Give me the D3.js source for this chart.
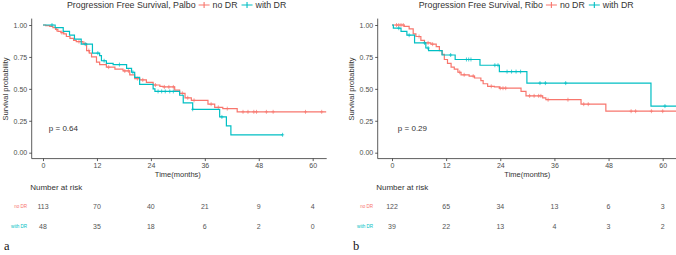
<!DOCTYPE html>
<html>
<head>
<meta charset="utf-8">
<script src="https://cdn.jsdelivr.net/npm/d3@7"></script>
<style>
  body { margin: 0; background: #fff; }
  svg { font-family: "Liberation Sans", Arial, sans-serif; display: block; }
  .axis path, .axis line { stroke: #333; }
  .axis text { fill: #4d4d4d; font-size: 7px; }
</style>
</head>
<body>
<div id="chart"></div>
<script>

// ---- data ----
const riskTimes = [0, 12, 24, 36, 48, 60];
const groups = ["no DR", "with DR"];

// Palbo
const palboNoDrTime = [0, 0.6, 1.5, 2.2, 2.8, 3.3, 4.0, 4.6, 5.2, 6.0, 6.8, 7.4, 8.9, 9.7, 10.3, 10.8, 11.9, 12.6, 14.1, 16.0, 17.8, 19.3, 20.4, 21.5, 23.0, 24.5, 26.0, 26.7, 29.3, 30.4, 31.6, 33.0, 36.7, 38.2, 40.0, 43.2];
const palboNoDrSurv = [1, 0.995, 0.99, 0.98, 0.965, 0.95, 0.94, 0.93, 0.91, 0.895, 0.88, 0.87, 0.855, 0.80, 0.78, 0.75, 0.71, 0.69, 0.67, 0.655, 0.64, 0.61, 0.58, 0.57, 0.55, 0.53, 0.52, 0.515, 0.49, 0.465, 0.43, 0.41, 0.38, 0.355, 0.345, 0.32];
const palboNoDrCensor = [3.0, 4.2, 8.0, 9.2, 10.2, 14.6, 18.2, 19.0, 21.0, 22.2, 25.0, 27.0, 28.0, 29.0, 31.0, 32.2, 33.6, 37.4, 39.0, 41.0, 44.5, 45.6, 46.9, 47.5, 49.7, 51.2, 58.4, 62.0];
const palboNoDrEnd = 63;
const palboWithDrTime = [0, 2.7, 4.5, 5.9, 7.0, 8.5, 11.0, 12.6, 13.0, 14.1, 15.6, 18.6, 19.7, 20.4, 21.5, 24.5, 24.9, 30.4, 31.2, 33.3, 39.3, 40.8, 41.8];
const palboWithDrSurv = [1, 0.98, 0.95, 0.92, 0.89, 0.85, 0.78, 0.76, 0.72, 0.70, 0.69, 0.66, 0.63, 0.59, 0.535, 0.50, 0.48, 0.45, 0.39, 0.34, 0.28, 0.21, 0.14];
const palboWithDrCensor = [2.0, 9.5, 12.2, 13.6, 17.0, 20.0, 25.6, 26.4, 27.2, 28.2, 29.0, 33.3, 39.8, 53.3];
const palboWithDrEnd = 53.3;
const palboRiskNoDr = [113, 70, 40, 21, 9, 4];
const palboRiskWithDr = [48, 35, 18, 6, 2, 0];

// Ribo
const riboNoDrTime = [0, 2.7, 3.8, 4.7, 5.3, 6.4, 7.2, 8.6, 9.8, 10.5, 11.1, 11.6, 12.3, 13.1, 13.8, 14.6, 15.3, 17.1, 18.3, 19.7, 20.2, 21.2, 22.7, 23.8, 28.6, 29.7, 33.4, 34.1, 41.9, 47.4];
const riboNoDrSurv = [1, 0.99, 0.97, 0.93, 0.91, 0.88, 0.86, 0.85, 0.83, 0.80, 0.77, 0.73, 0.70, 0.67, 0.655, 0.63, 0.61, 0.60, 0.585, 0.565, 0.54, 0.52, 0.515, 0.505, 0.48, 0.445, 0.43, 0.415, 0.38, 0.325];
const riboNoDrCensor = [1.0, 1.5, 2.0, 2.5, 6.0, 8.0, 9.0, 15.0, 16.0, 18.0, 22.0, 24.0, 24.6, 25.2, 30.5, 31.5, 32.5, 33.0, 34.6, 39.0, 42.5, 43.5, 53.0, 54.0, 57.5, 60.0];
const riboNoDrEnd = 63;
const riboWithDrTime = [0, 0.3, 2.0, 3.3, 5.0, 7.5, 8.1, 11.1, 14.0, 19.5, 23.8, 29.9, 57.4];
const riboWithDrSurv = [1, 0.975, 0.95, 0.92, 0.86, 0.82, 0.80, 0.765, 0.73, 0.685, 0.635, 0.545, 0.365];
const riboWithDrCensor = [1.5, 3.8, 7.2, 8.0, 13.0, 16.5, 17.0, 17.5, 22.8, 23.5, 25.5, 26.5, 27.5, 28.5, 32.8, 34.0, 38.5, 60.5];
const riboWithDrEnd = 63;
const riboRiskNoDr = [122, 65, 34, 13, 6, 3];
const riboRiskWithDr = [39, 22, 13, 4, 3, 2];

const colors = ["#F8766D", "#00BFC4"];

const svg = d3.select("#chart").append("svg")
    .attr("width", 676)
    .attr("height", 255);

function survAt(times, surv, t) {
    let s = surv[0];
    times.forEach((tt, i) => { if (tt <= t) s = surv[i]; });
    return s;
}

function drawPanel(p) {
    let g = svg.append("g").attr("transform", `translate(${p.left},0)`);

    let x = d3.scaleLinear().domain([0, 60]).range([p.x0, p.x60]);
    let y = d3.scaleLinear().domain([0, 1]).range([152.7, 25]);

    // axes
    let xAxis = d3.axisBottom(x).tickValues(riskTimes).tickSize(2.5).tickSizeOuter(0).tickPadding(2);
    let yAxis = d3.axisLeft(y).tickValues([0, 0.25, 0.5, 0.75, 1]).tickFormat(d3.format(".2f")).tickSize(2.5).tickSizeOuter(0).tickPadding(2);

    g.append("g").attr("class", "axis")
        .attr("transform", "translate(0,158.6)")
        .call(xAxis)
        .call(a => a.select(".domain").attr("d", `M${p.axisX},0H${p.right}`));
    g.append("g").attr("class", "axis")
        .attr("transform", `translate(${p.axisX},0)`)
        .call(yAxis)
        .call(a => a.select(".domain").attr("d", "M0,18.6V158.6"));
    g.selectAll(".axis path, .axis line").attr("stroke-width", 0.8);

    // curves
    let line = d3.line().x(d => x(d[0])).y(d => y(d[1])).curve(d3.curveStepAfter);
    p.curves.forEach((c, i) => {
        let pts = c.time.map((t, j) => [t, c.surv[j]]);
        pts.push([c.end, c.surv[c.surv.length - 1]]);
        g.append("path")
            .datum(pts)
            .attr("fill", "none")
            .attr("stroke", colors[i])
            .attr("stroke-width", 1.2)
            .attr("d", line);
        g.selectAll(null)
            .data(c.censor)
            .enter()
            .append("path")
            .attr("stroke", colors[i])
            .attr("stroke-width", 0.7)
            .attr("d", d => {
                let cx = x(d), cy = y(survAt(c.time, c.surv, d));
                return `M${cx - 1.6},${cy}H${cx + 1.6}M${cx},${cy - 2}V${cy + 2}`;
            });
    });

    // title + legend
    let title = g.append("text")
        .attr("x", p.titleX).attr("y", 8)
        .attr("font-size", 8.8).attr("fill", "#333")
        .text(p.title);
    let tw = title.node().getComputedTextLength();
    let lx = p.titleX + tw + 3;
    groups.forEach((name, i) => {
        g.append("path")
            .attr("stroke", colors[i]).attr("stroke-width", 1.1)
            .attr("d", `M${lx},5H${lx + 11}M${lx + 5.5},2V8`);
        let t = g.append("text")
            .attr("x", lx + 14).attr("y", 8)
            .attr("font-size", 8.8).attr("fill", "#333")
            .text(name);
        lx += 14 + t.node().getComputedTextLength() + 4;
    });

    // y label
    g.append("text")
        .attr("transform", `translate(${p.axisX - 24},89) rotate(-90)`)
        .attr("text-anchor", "middle")
        .attr("font-size", 7.5).attr("fill", "#333")
        .text("Survival probability");

    // p value
    g.append("text")
        .attr("x", x(1.3)).attr("y", 131)
        .attr("font-size", 8).attr("fill", "#333")
        .text(p.pval);

    // x label
    g.append("text")
        .attr("x", x(30)).attr("y", 177)
        .attr("text-anchor", "middle")
        .attr("font-size", 7.5).attr("fill", "#333")
        .text("Time(months)");

    // risk table
    g.append("text")
        .attr("x", p.axisX - 1.5).attr("y", 190)
        .attr("font-size", 8).attr("fill", "#333")
        .text("Number at risk");

    [p.riskNoDr, p.riskWithDr].forEach((row, i) => {
        let ry = [206.7, 226][i];
        g.append("text")
            .attr("x", p.axisX - 4.5).attr("y", ry + 1.6)
            .attr("text-anchor", "end")
            .attr("font-size", 4.6).attr("fill", colors[i])
            .text(groups[i]);
        g.selectAll(null)
            .data(row)
            .enter()
            .append("text")
            .attr("x", (d, j) => x(riskTimes[j]))
            .attr("y", ry + 2.5)
            .attr("text-anchor", "middle")
            .attr("font-size", 7).attr("fill", "#555")
            .text(d => d);
    });

    // panel letter
    g.append("text")
        .attr("x", p.letterX).attr("y", 250)
        .attr("font-family", "'Liberation Serif', 'Times New Roman', serif")
        .attr("font-size", 12.5).attr("fill", "#111")
        .text(p.letter);
}

drawPanel({
    left: 0, x0: 43, x60: 312.7, axisX: 31.7, right: 326.7, titleX: 67,
    title: "Progression Free Survival, Palbo", pval: "p = 0.64", letter: "a", letterX: 4,
    riskNoDr: palboRiskNoDr, riskWithDr: palboRiskWithDr,
    curves: [
        {time: palboNoDrTime, surv: palboNoDrSurv, censor: palboNoDrCensor, end: palboNoDrEnd},
        {time: palboWithDrTime, surv: palboWithDrSurv, censor: palboWithDrCensor, end: palboWithDrEnd}
    ]
});

drawPanel({
    left: 336, x0: 56, x60: 326.7, axisX: 41.7, right: 340, titleX: 82.7,
    title: "Progression Free Survival, Ribo", pval: "p = 0.29", letter: "b", letterX: 17,
    riskNoDr: riboRiskNoDr, riskWithDr: riboRiskWithDr,
    curves: [
        {time: riboNoDrTime, surv: riboNoDrSurv, censor: riboNoDrCensor, end: riboNoDrEnd},
        {time: riboWithDrTime, surv: riboWithDrSurv, censor: riboWithDrCensor, end: riboWithDrEnd}
    ]
});

</script>
</body>
</html>
